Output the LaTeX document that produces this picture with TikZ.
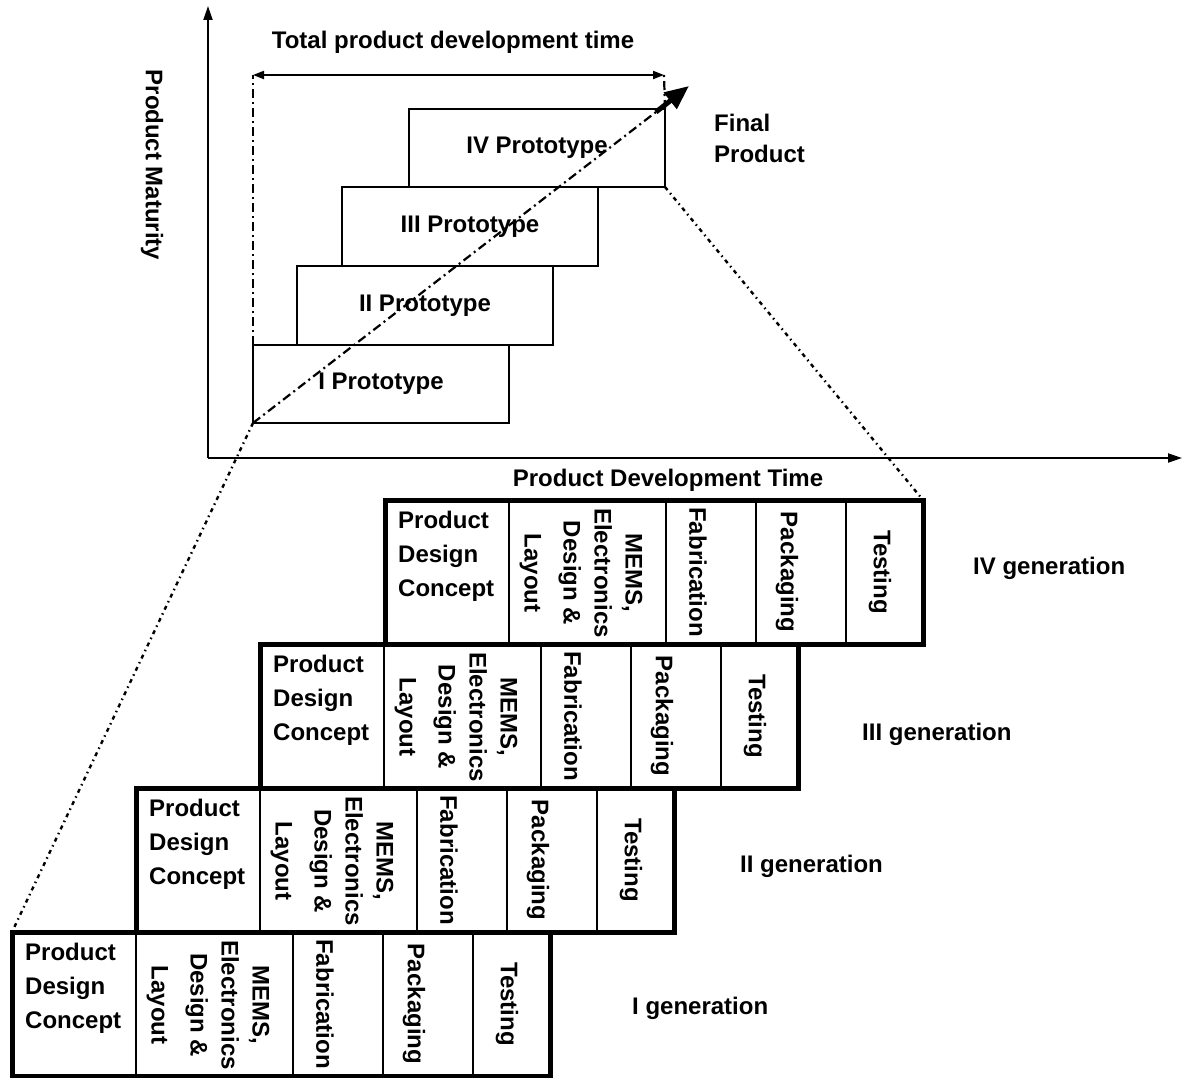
\documentclass[tikz,border=0pt]{standalone}
\usepackage{fontspec}
\setmainfont{Liberation Sans}
\usetikzlibrary{arrows.meta}

\begin{document}
\begin{tikzpicture}[x=1pt,y=-1pt,
  lbl/.style={font=\fontsize{24}{28}\selectfont\bfseries, inner sep=0pt},
  proto/.style={draw, line width=2pt, minimum width=256pt, anchor=north west,
    font=\fontsize{24}{28}\selectfont\bfseries, inner sep=0pt, outer sep=0pt},
  cell/.style={draw, line width=2.5pt, minimum height=144pt, inner sep=0pt,
    outer sep=0pt, anchor=north west},
  frame/.style={line width=5pt},
  axis/.style={line width=2pt, -{Triangle[length=14pt,width=9pt]}},
  dashdot/.style={line width=2.2pt, dash pattern=on 9pt off 4pt on 2pt off 4pt},
  dotline/.style={line width=2.4pt, dash pattern=on 4pt off 4pt on 1.5pt off 4pt},
]
\useasboundingbox (0,0) rectangle (1185,1078);

% axes
\coordinate (O) at (208,458);
\coordinate (ytip) at (208,6);
\coordinate (xtip) at (1182,458);
\draw[axis] (O) -- (ytip);
\draw[axis] (O) -- (xtip);
\node[lbl, rotate=-90] (ylab) at (152,165) {Product Maturity};
\node[lbl] (xlab) at (668,480) {Product Development Time};

% prototypes
\node[proto, minimum height=78pt] (p1) at (253,345) {I Prototype};
\node[proto, minimum height=79pt] (p2) at (297,266) {II Prototype};
\node[proto, minimum height=79pt] (p3) at (342,187) {III Prototype};
\node[proto, minimum height=78pt] (p4) at (409,109) {IV Prototype};

% total development time
\coordinate (tl) at (253,75);
\coordinate (tr) at (664,75);
\draw[dashdot] (p1.north west) -- (tl);
\draw[dashdot] (p4.north east) -- (tr);
\draw[line width=2pt, {Triangle[length=11pt,width=8pt]}-{Triangle[length=11pt,width=8pt]}] (tl) -- (tr);
\node[lbl] (total) at (453,42) {Total product development time};

% maturity arrow
\coordinate (bend) at (656,112);
\coordinate (tip) at (689,86);
\draw[dashdot] (p1.south west) -- (bend);
\draw[line width=5pt, -{Triangle[length=24pt,width=20pt]}] (bend) -- (tip);
\node[lbl, align=left, anchor=west, font=\fontsize{24}{31}\selectfont\bfseries] (final) at (714,138) {Final\\Product};

% generations
\foreach \g/\L/\T/\lab/\lx/\ly in {1/12/932/I/632/1008, 2/136/788/II/740/866, 3/260/644/III/862/734, 4/385/500/IV/973/568} {
  \node[cell, minimum width=124pt] (g\g a) at (\L,\T) {};
  \node[cell, minimum width=157pt] (g\g b) at (g\g a.north east) {};
  \node[cell, minimum width=90pt] (g\g c) at (g\g b.north east) {};
  \node[cell, minimum width=90pt] (g\g d) at (g\g c.north east) {};
  \node[cell, minimum width=77pt] (g\g e) at (g\g d.north east) {};
  \draw[frame] (g\g a.north west) rectangle (g\g e.south east);
  \node[lbl, align=left, anchor=west, font=\fontsize{24}{34}\selectfont\bfseries] (g\g ta) at ([xshift=13pt, yshift=-56pt]g\g a.north west) {Product\\Design\\Concept};
  \node[lbl, rotate=-90, align=center, font=\fontsize{24}{31}\selectfont\bfseries] (g\g tb) at ([xshift=72pt, yshift=-73pt]g\g b.north west) {MEMS,\\Electronics\\Design \&\\[8pt]Layout};
  \node[lbl, rotate=-90] (g\g tc) at ([xshift=32pt, yshift=-72pt]g\g c.north west) {Fabrication};
  \node[lbl, rotate=-90] (g\g td) at ([xshift=31pt, yshift=-72pt]g\g d.north west) {Packaging};
  \node[lbl, rotate=-90] (g\g te) at ([xshift=34pt, yshift=-72pt]g\g e.north west) {Testing};
  \node[lbl, anchor=west] (g\g lab) at (\lx,\ly) {\lab\ generation};
}

% zoom lines from prototypes to generations
\draw[dotline] (p4.south east) -- (g4e.north east);
\draw[dotline] (p1.south west) -- (g1a.north west);
\end{tikzpicture}
\end{document}
